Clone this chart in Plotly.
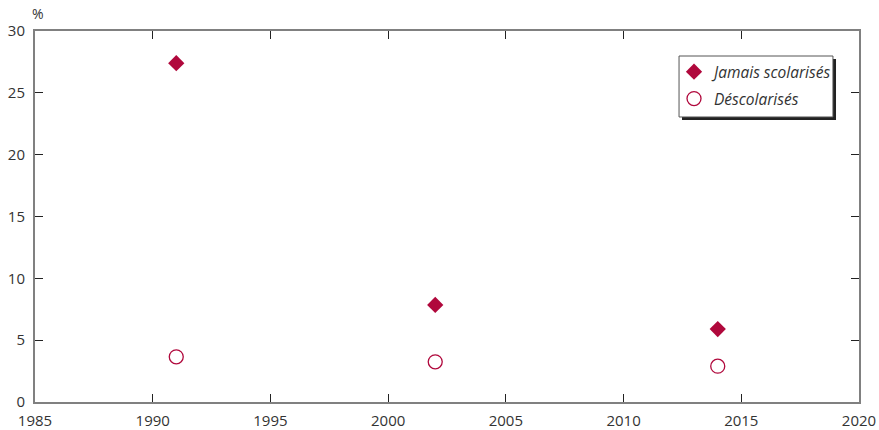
import plotly.graph_objs as go

years = [1991, 2002, 2014]
jamais = [27.4, 7.85, 5.9]
descol = [3.65, 3.25, 2.9]

x_ticks = [1985, 1990, 1995, 2000, 2005, 2010, 2015, 2020]
y_ticks = [0, 5, 10, 15, 20, 25, 30]

red = '#B0083C'
fnt = 'Open Sans, Noto Sans, sans-serif'

traces = []
traces.append(go.Scatter(
	x=years, y=jamais, name='Jamais scolarisés', mode='markers', legend='legend', showlegend=True,
	marker=dict(symbol='diamond', size=12.5, color=red, line=dict(width=0)),
))
traces.append(go.Scatter(
	x=years, y=descol, name='Déscolarisés', mode='markers', legend='legend2', showlegend=True,
	marker=dict(symbol='circle-open', size=14, color=red, line=dict(width=1.3)),
))

axis_style = dict(showline=True, linecolor='#808080', linewidth=2, mirror='ticks',
	ticks='inside', ticklen=8, tickcolor='#222', tickwidth=1.3, automargin=False,
	showgrid=False, zeroline=False, tickfont=dict(size=15, color='#333', family=fnt))

leg_style = dict(xanchor='left', yanchor='top', bgcolor='rgba(0,0,0,0)', borderwidth=0,
	font=dict(size=15.5, color='#333', family=fnt, style='italic'), itemsizing='trace')

fig = go.Figure(data=traces)
fig.update_layout(
	width=879, height=430, showlegend=True,
	font=dict(family=fnt, color='#333'),
	plot_bgcolor='rgba(0,0,0,0)', paper_bgcolor='white',
	margin=dict(l=35, r=20, t=31, b=28),
	xaxis=dict(range=[1985, 2020], tickvals=x_ticks, ticklabelstandoff=4, **axis_style),
	yaxis=dict(range=[0, 30], tickvals=y_ticks, ticklabelstandoff=5, **axis_style),
	legend=dict(x=0.7755, y=0.935, **leg_style),
	legend2=dict(x=0.7755, y=0.8625, **leg_style),
	annotations=[dict(text='%', x=0, y=1, xref='paper', yref='paper', xanchor='center',
		yanchor='bottom', xshift=3, yshift=6, showarrow=False, font=dict(size=14, color='#333'))],
)
# legend box with shadow
fig.add_shape(type='rect', xref='paper', yref='paper', x0=0.7852, x1=0.9721, y0=0.7601, y1=0.9245,
	fillcolor='#222', line=dict(width=0), layer='below')
fig.add_shape(type='rect', xref='paper', yref='paper', x0=0.7816, x1=0.9684, y0=0.7682, y1=0.9326,
	fillcolor='white', line=dict(width=1, color='#555'), layer='below')

# remove the default 8px page margin so the figure sits at the window's corner
fig.write_html("out.html", config={'displayModeBar': False},
	post_script="document.body.style.margin='0';document.body.style.overflow='hidden';")
